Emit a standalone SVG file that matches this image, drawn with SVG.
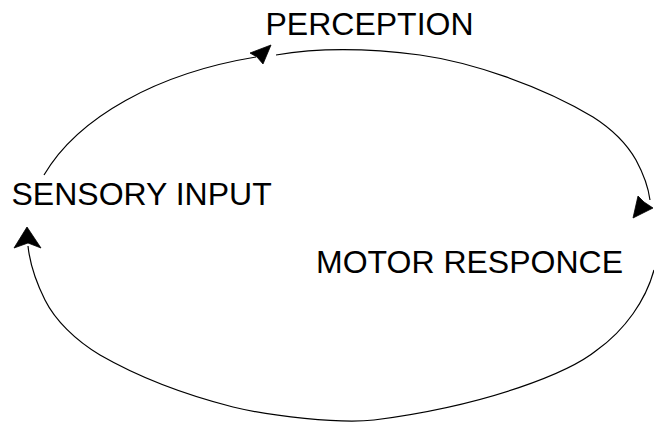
<svg xmlns="http://www.w3.org/2000/svg" width="654" height="422" viewBox="0 0 654 422">
<style>
.lbl{font-family:"Liberation Sans",Arial,sans-serif;font-size:32px;fill:#000}
.arc{fill:none;stroke:#000;stroke-width:1.2}
.head{fill:#000;stroke:#000;stroke-width:0.8;stroke-linejoin:round}
</style>
<rect width="654" height="422" fill="#fff"/>
<g id="perception"><text class="lbl" x="265.5" y="35">PERCEPTION</text></g>
<g id="sensory-input"><text class="lbl" x="11.5" y="205">SENSORY INPUT</text></g>
<g id="motor-responce"><text class="lbl" x="316" y="273">MOTOR RESPONCE</text></g>
<g id="connectors">
<path class="arc" d="M44,175 A312,186 0 0 1 256,57"/>
<polygon class="head" points="271,45 250,53 257,57 263,64"/>
<path class="arc" d="M276,55 C310,49 360,47 420,55 C470,62 540,85 593,117 C615,131 628,146 636,160 C643,173 648,185 650,200"/>
<polygon class="head" points="633,218 638,196 644,202 653,208"/>
<path class="arc" d="M654,270 C646,300 625,330 597,350 C570,372 490,405 374,420 C340,424 270,416 233,407 C190,396 140,378 100,355 C75,340 55,320 45,300 C35,280 30,265 28,246"/>
<polygon class="head" points="27,227 14,248 28,243 41,248"/>
</g>
</svg>
